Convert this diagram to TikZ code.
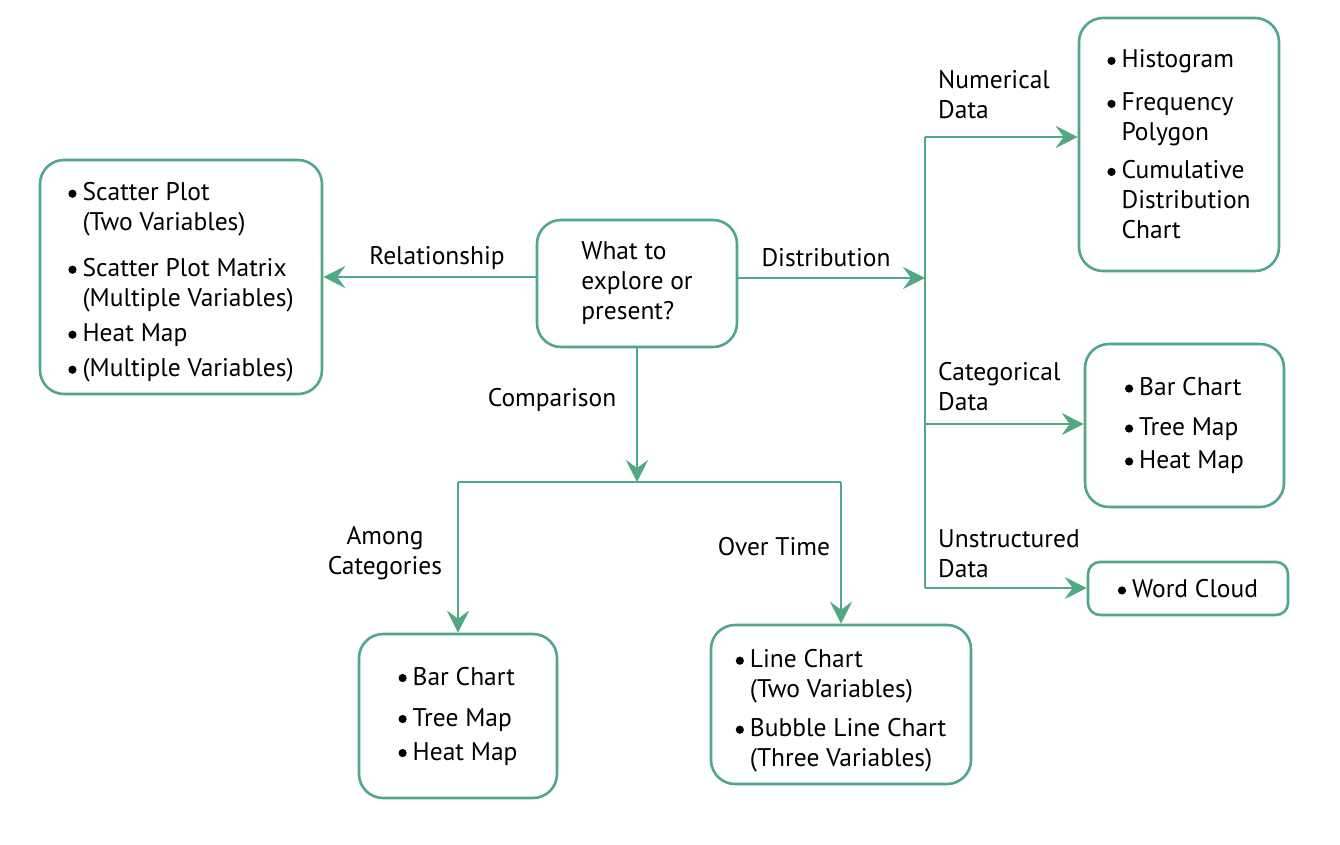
\documentclass[tikz,border=0pt]{standalone}
\usepackage{fontspec}
\setmainfont{PT Sans}
\usetikzlibrary{arrows.meta}

\definecolor{flowgreen}{RGB}{80,168,132}
\newcommand{\itemdot}{\tikz[baseline=-7pt]\fill (0,0) circle (4.1pt);\hspace{6pt}}
\newcommand{\itemskip}{\hspace{14.2pt}}

\tikzset{
  box/.style={draw=flowgreen, line width=2.6pt, rounded corners=24pt, align=left, inner sep=0pt, font=\fontsize{25.5}{30}\selectfont},
  wire/.style={draw=flowgreen, line width=2.6pt},
  link/.style={wire, -{Stealth[length=22pt,width=22pt,inset=8pt]}},
  lbl/.style={font=\fontsize{25.5}{30}\selectfont, align=left, inner sep=0pt}
}

\begin{document}
\begin{tikzpicture}[x=1pt, y=-1pt]
  \useasboundingbox (0,0) rectangle (1340,844);

  % question in the middle
  \node [box, minimum width=200pt, minimum height=127pt] (q) at (637,283.5) {What to\\explore or\\present?};

  % result boxes
  \node [box, minimum width=282pt, minimum height=234pt] (rel) at (181,277) {\rule{0pt}{29pt}\itemdot Scatter Plot\\\itemskip(Two Variables)\\[16pt]\itemdot Scatter Plot Matrix\\\itemskip(Multiple Variables)\\[5pt]\itemdot Heat Map\\[5pt]\itemdot (Multiple Variables)};
  \node [box, minimum width=200pt, minimum height=253pt] (num) at (1179,144.5) {\itemdot Histogram\\[13pt]\itemdot Frequency\\\itemskip Polygon\\[8pt]\itemdot Cumulative\\\itemskip Distribution\\\itemskip Chart};
  \node [box, minimum width=199pt, minimum height=163pt] (cat) at (1184.5,425.5) {\itemdot Bar Chart\\[10pt]\itemdot Tree Map\\[3pt]\itemdot Heat Map};
  \node [box, minimum width=200pt, minimum height=53pt, rounded corners=12pt] (cloud) at (1188,588.5) {\itemdot Word Cloud};
  \node [box, minimum width=198pt, minimum height=164pt] (among) at (458,716) {\itemdot Bar Chart\\[11pt]\itemdot Tree Map\\[4pt]\itemdot Heat Map};
  \node [box, minimum width=260pt, minimum height=159pt] (over) at (841,704.5) {\rule{0pt}{31pt}\itemdot Line Chart\\\itemskip(Two Variables)\\[9pt]\itemdot Bubble Line Chart\\\itemskip(Three Variables)};

  % relationship
  \draw [link] (q.west |- rel.east) -- (rel.east);
  \node [lbl] (relt) at (437,258) {Relationship};

  % distribution
  \coordinate (hub) at (925,278);
  \coordinate (numin) at (925,137);
  \coordinate (catin) at (925,424);
  \coordinate (cloudin) at (925,588);
  \draw [link] (q.east |- hub) -- (hub);
  \draw [wire] (numin) -- (cloudin);
  \draw [link] (numin) -- (numin -| num.west);
  \draw [link] (catin) -- (catin -| cat.west);
  \draw [link] (cloudin) -- (cloudin -| cloud.west);
  \node [lbl] (distt) at (826,258) {Distribution};
  \node [lbl, anchor=west] (numt) at (938,95) {Numerical\\Data};
  \node [lbl, anchor=west] (catt) at (938,387) {Categorical\\Data};
  \node [lbl, anchor=west] (cloudt) at (938,554) {Unstructured\\Data};

  % comparison
  \coordinate (split) at (637,482);
  \draw [link] (q.south) -- (split);
  \draw [wire] (split -| among.north) -- (split -| over.north);
  \draw [link] (split -| among.north) -- (among.north);
  \draw [link] (split -| over.north) -- (over.north);
  \node [lbl] (compt) at (552,400) {Comparison};
  \node [lbl, align=center] (amongt) at (385,553) {Among\\Categories};
  \node [lbl] (overt) at (774,547) {Over Time};
\end{tikzpicture}
\end{document}
